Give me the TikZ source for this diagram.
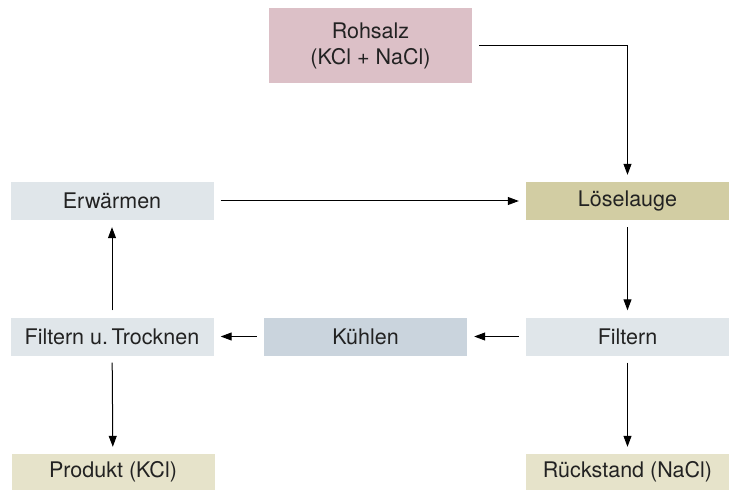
\documentclass[tikz,border=0pt]{standalone}
\usepackage{fontspec}
\setmainfont{TeX Gyre Heros}
\usepackage{tikz}
\usetikzlibrary{arrows.meta}
\definecolor{rohcol}{HTML}{DCC0C7}
\definecolor{laugecol}{HTML}{D2CDA3}
\definecolor{stepcol}{HTML}{E0E6EA}
\definecolor{kuehlcol}{HTML}{CAD4DD}
\definecolor{endcol}{HTML}{E6E3CA}
\definecolor{txtcol}{HTML}{222222}

\begin{document}
\begin{tikzpicture}[x=1pt,y=-1pt]
\tikzset{box/.style=
	{minimum width=203pt,minimum height=38pt,inner sep=0pt,align=center,
	 text=txtcol,font=\fontsize{21.5}{26}\selectfont},
	flow/.style=
	{line width=1pt,-{Triangle[length=11pt,width=8pt]},shorten >=7pt,shorten <=7pt}}
\useasboundingbox (0,0) rectangle (732,492);
% Kreislauf
\node[box,fill=rohcol,minimum height=75pt] (roh) at (370.5,45.5) {Rohsalz\\(KCl + NaCl)};
\node[box,fill=laugecol] (lauge) at (627.5,201) {Löselauge};
\node[box,fill=stepcol] (erw) at (112,201) {Erwärmen};
\node[box,fill=stepcol] (filt) at (627.5,336.5) {Filtern};
\node[box,fill=kuehlcol] (kuehl) at (365.5,336.5) {Kühlen};
\node[box,fill=stepcol] (trock) at (112,336.5) {Filtern u.\,Trocknen};
\node[box,fill=endcol,minimum height=36pt] (prod) at (113,472) {Produkt (KCl)};
\node[box,fill=endcol,minimum height=36pt] (rest) at (627.5,472) {Rückstand (NaCl)};
\draw[flow] (roh) -| (lauge);
\draw[flow] (erw) -- (lauge);
\draw[flow] (lauge) -- (filt);
\draw[flow] (filt) -- (kuehl);
\draw[flow] (kuehl) -- (trock);
\draw[flow] (trock) -- (erw);
\draw[flow] (trock) -- (prod);
\draw[flow] (filt) -- (rest);
\end{tikzpicture}
\end{document}
